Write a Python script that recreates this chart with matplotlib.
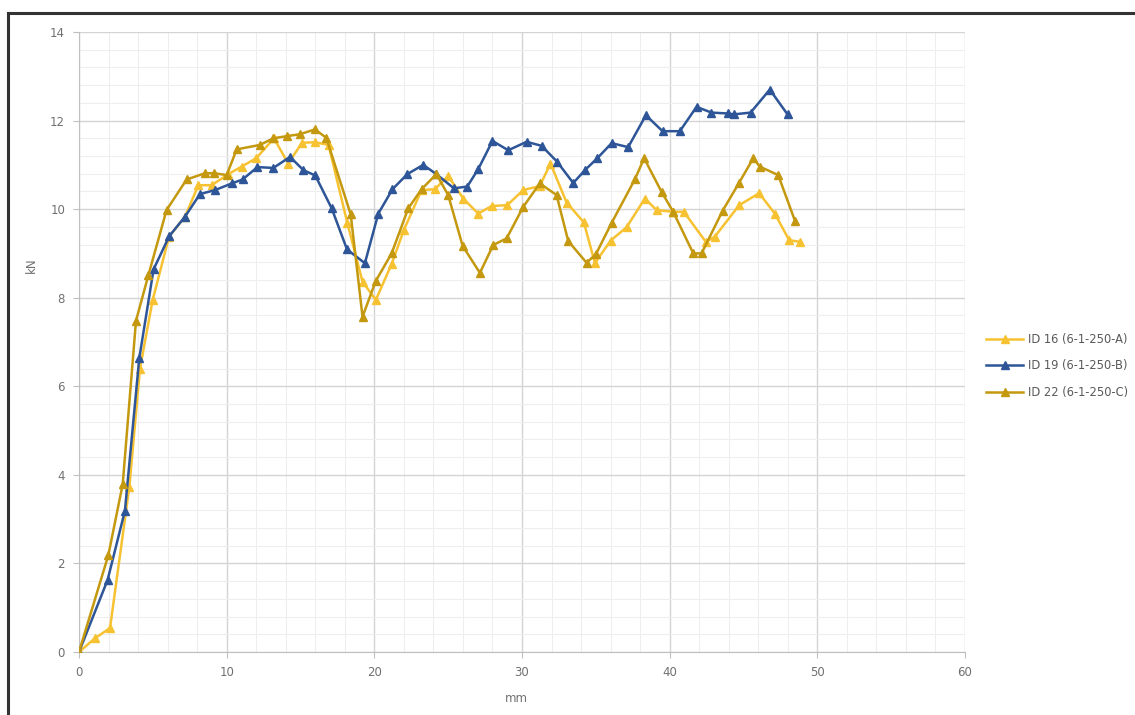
import numpy as np
import matplotlib
matplotlib.use("Agg")
import matplotlib.pyplot as plt
from matplotlib.ticker import MultipleLocator

# ID 16 (6-1-250-A)
x16 = [0, 1.08, 2.1, 3.41, 4.13, 4.99, 6.1, 7.18, 8.08, 8.98, 10.11, 11.01, 12.0,
       13.2, 14.17, 15.1, 16.0, 16.9, 18.17, 19.2, 20.1, 21.17, 22.0, 23.2, 24.1,
       25.0, 26.02, 27.03, 27.94, 29.0, 30.08, 31.2, 31.93, 33.02, 34.19, 34.94,
       36.0, 37.08, 38.32, 39.11, 40.24, 40.96, 42.45, 43.06, 44.71, 46.06, 47.12,
       48.09, 48.86]
y16 = [0, 0.31, 0.54, 3.73, 6.4, 7.95, 9.38, 9.83, 10.54, 10.54, 10.79, 10.96, 11.15,
       11.6, 11.03, 11.5, 11.51, 11.45, 9.69, 8.36, 7.95, 8.76, 9.53, 10.43, 10.45,
       10.75, 10.24, 9.9, 10.07, 10.09, 10.43, 10.52, 11.03, 10.15, 9.7, 8.78,
       9.29, 9.59, 10.24, 9.98, 9.94, 9.94, 9.26, 9.38, 10.09, 10.36, 9.9,
       9.3, 9.26]

# ID 19 (6-1-250-B)
x19 = [0, 1.94, 3.11, 4.08, 5.05, 6.11, 7.18, 8.19, 9.21, 10.34, 11.08, 12.08, 13.16,
       14.29, 15.2, 16.0, 17.11, 18.15, 19.36, 20.27, 21.23, 22.23, 23.31, 24.2,
       25.39, 26.29, 27.03, 28.0, 29.07, 30.31, 31.33, 32.38, 33.47, 34.26, 35.1,
       36.07, 37.19, 38.39, 39.52, 40.69, 41.82, 42.83, 43.96, 44.35, 45.48,
       46.78, 47.98]
y19 = [0, 1.63, 3.19, 6.63, 8.64, 9.39, 9.83, 10.34, 10.43, 10.58, 10.67, 10.95, 10.93,
       11.18, 10.88, 10.76, 10.02, 9.09, 8.78, 9.9, 10.45, 10.79, 11.0, 10.79,
       10.47, 10.51, 10.9, 11.54, 11.33, 11.52, 11.43, 11.07, 10.59, 10.88, 11.15,
       11.49, 11.4, 12.12, 11.76, 11.76, 12.31, 12.18, 12.16, 12.14, 12.18,
       12.7, 12.14]

# ID 22 (6-1-250-C)
x22 = [0, 1.99, 2.96, 3.86, 4.7, 5.93, 7.29, 8.53, 9.14, 10.0, 10.68, 12.25, 13.16,
       14.1, 14.94, 15.98, 16.75, 18.4, 19.2, 20.1, 21.17, 22.3, 23.2, 24.2, 25.0,
       25.98, 27.15, 28.05, 28.96, 30.08, 31.2, 32.34, 33.13, 34.37, 35.0, 36.07,
       37.64, 38.27, 39.45, 40.24, 41.6, 42.16, 43.58, 44.71, 45.66, 46.1, 47.35,
       48.48]
y22 = [0, 2.19, 3.79, 7.48, 8.51, 9.98, 10.67, 10.81, 10.81, 10.77, 11.35, 11.45, 11.6,
       11.65, 11.69, 11.8, 11.61, 9.88, 7.57, 8.38, 9.0, 10.02, 10.45, 10.79, 10.32,
       9.17, 8.56, 9.19, 9.34, 10.05, 10.58, 10.32, 9.28, 8.79, 8.98, 9.69,
       10.67, 11.15, 10.39, 9.94, 9.0, 9.0, 9.96, 10.6, 11.15, 10.96, 10.77,
       9.74]

series = [
    ("ID 16 (6-1-250-A)", x16, y16, "#F7C232"),
    ("ID 19 (6-1-250-B)", x19, y19, "#2D5597"),
    ("ID 22 (6-1-250-C)", x22, y22, "#C4980F"),
]

fig = plt.figure(figsize=(11.35, 7.15), dpi=100)
ax = fig.add_axes([79 / 1135, 63 / 715, 886 / 1135, 620 / 715])

for label, xs, ys, col in series:
    ax.plot(xs, ys, color=col, lw=1.8, marker="^", ms=6, label=label, zorder=3)

ax.set_xlim(0, 60)
ax.set_ylim(0, 14)
ax.xaxis.set_major_locator(MultipleLocator(10))
ax.xaxis.set_minor_locator(MultipleLocator(2))
ax.yaxis.set_major_locator(MultipleLocator(2))
ax.yaxis.set_minor_locator(MultipleLocator(0.4))
ax.grid(which="major", color="#d4d4d4", lw=1.0)
ax.grid(which="minor", color="#eeeeee", lw=0.8)
ax.set_axisbelow(True)

for side in ["top", "right"]:
    ax.spines[side].set_visible(False)
for side in ["left", "bottom"]:
    ax.spines[side].set_color("#bfbfbf")
ax.tick_params(which="major", length=4, color="#bfbfbf", labelsize=8.5,
               labelcolor="#707070", pad=6)
ax.tick_params(which="minor", length=0)

ax.set_xlabel("mm", fontsize=8.5, color="#707070")
ax.set_ylabel("kN", fontsize=8.5, color="#707070")
ax.xaxis.set_label_coords(0.494, -0.065)
ax.yaxis.set_label_coords(-0.046, 0.624)

fig.legend(loc="center left", bbox_to_anchor=(976 / 1135, (715 - 366) / 715),
           frameon=False, fontsize=8.3, labelcolor="#595959", handlelength=3.2,
           handletextpad=0.4, labelspacing=1.2)

# outer frame (top and left edge as in the screenshot)
fig.add_artist(plt.Line2D([8 / 1135, 1], [1 - 13 / 715, 1 - 13 / 715],
                          color="#333333", lw=2.2, transform=fig.transFigure))
fig.add_artist(plt.Line2D([8 / 1135, 8 / 1135], [0, 1 - 13 / 715],
                          color="#333333", lw=2.2, transform=fig.transFigure))

fig.savefig("out.png", dpi=100)
